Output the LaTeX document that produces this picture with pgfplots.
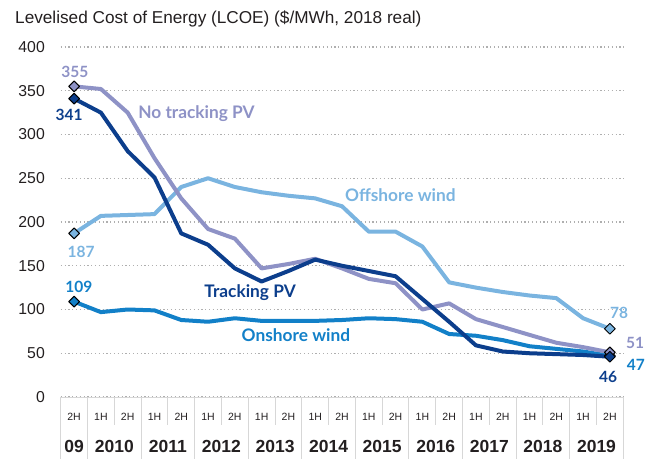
\documentclass[border=0pt]{standalone}
\usepackage{pgfplots}
\pgfplotsset{compat=1.18}
\usepackage{fontspec}
\setmainfont{Liberation Sans}
\newfontfamily\labfont{Lato}
\definecolor{ntpv}{RGB}{142,146,198}
\definecolor{tpv}{RGB}{12,62,140}
\definecolor{offw}{RGB}{122,180,224}
\definecolor{onw}{RGB}{18,128,200}
\definecolor{txt}{RGB}{35,31,32}
\definecolor{gridc}{RGB}{175,175,175}
\definecolor{boxc}{RGB}{215,215,215}
\begin{document}
\begin{tikzpicture}[x=1pt,y=1pt]
\path[use as bounding box] (0,0) rectangle (662,459);
\node[anchor=west, inner sep=0pt, font=\fontsize{17.2}{20}\selectfont, text=txt] at (15,439.7) {Levelised Cost of Energy (LCOE) (\$/MWh, 2018 real)};
\begin{axis}[
  at={(60.7pt,62pt)}, anchor=south west,
  scale only axis, width=562.6pt, height=350pt,
  xmin=-0.5, xmax=20.5, ymin=0, ymax=400,
  axis line style={draw=none},
  clip=false,
  ytick={0,50,...,400},
  ymajorgrids,
  grid style={gridc, line width=1.1pt, dash pattern=on 1.2pt off 2.6pt},
  major tick length=0pt,
  /pgf/number format/assume math mode=true,
  yticklabel style={font=\fontsize{15.8}{18}\selectfont, text=txt, inner sep=0pt, anchor=east, xshift=-15.7pt},
  xtick={0,...,20},
  xticklabels={2H,1H,2H,1H,2H,1H,2H,1H,2H,1H,2H,1H,2H,1H,2H,1H,2H,1H,2H,1H,2H},
  xticklabel style={font=\fontsize{10.5}{12}\selectfont, text=txt, anchor=center, inner sep=0pt},
  xticklabel shift=19.7pt,
  extra x ticks={0,1.5,3.5,5.5,7.5,9.5,11.5,13.5,15.5,17.5,19.5},
  extra x tick labels={09,2010,2011,2012,2013,2014,2015,2016,2017,2018,2019},
  extra x tick style={xticklabel shift=49.7pt, xticklabel style={font=\fontsize{17.5}{20}\selectfont\bfseries}},
]
% category boxes
\draw[boxc, line width=1pt] (axis cs:-0.5,0) -- (axis cs:20.5,0);
\pgfplotsinvokeforeach{-0.5,0.5,2.5,4.5,6.5,8.5,10.5,12.5,14.5,16.5,18.5,20.5}{
  \draw[boxc, line width=1pt] (axis cs:#1,0) -- ([yshift=-62pt]axis cs:#1,0);
}
\pgfplotsinvokeforeach{1.5,3.5,5.5,7.5,9.5,11.5,13.5,15.5,17.5,19.5}{
  \draw[boxc, line width=1pt] (axis cs:#1,0) -- ([yshift=-28pt]axis cs:#1,0);
}
% Offshore wind
\addplot[offw, line width=4pt, line join=round, mark=square*, mark indices={1,21}, mark options={solid, rotate=45, fill=offw, draw=black, line width=1pt, mark size=3.8pt}] coordinates {
(0,187) (1,207) (2,208) (3,209) (4,240) (5,250) (6,240) (7,234) (8,230) (9,227) (10,218)
(11,189) (12,189) (13,172) (14,131) (15,125) (16,120) (17,116) (18,113) (19,90) (20,78)};
% Onshore wind
\addplot[onw, line width=4pt, line join=round, mark=square*, mark indices={1,21}, mark options={solid, rotate=45, fill=onw, draw=black, line width=1pt, mark size=3.8pt}] coordinates {
(0,109) (1,97) (2,100) (3,99) (4,88) (5,86) (6,90) (7,87) (8,87) (9,87) (10,88)
(11,90) (12,89) (13,86) (14,72) (15,70) (16,65) (17,58) (18,55) (19,52) (20,47)};
% No tracking PV
\addplot[ntpv, line width=4pt, line join=round, mark=square*, mark indices={1,21}, mark options={solid, rotate=45, fill=ntpv, draw=black, line width=1pt, mark size=3.8pt}] coordinates {
(0,355) (1,352) (2,325) (3,273) (4,227) (5,192) (6,181) (7,147) (8,152) (9,158) (10,147)
(11,135) (12,130) (13,100) (14,107) (15,89) (16,80) (17,71) (18,62) (19,57) (20,51)};
% Tracking PV
\addplot[tpv, line width=4pt, line join=round, mark=square*, mark indices={1,21}, mark options={solid, rotate=45, fill=tpv, draw=black, line width=1pt, mark size=3.8pt}] coordinates {
(0,341) (1,325) (2,281) (3,251) (4,187) (5,174) (6,147) (7,132) (8,144) (9,157) (10,150)
(11,144) (12,138) (13,112) (14,86) (15,59) (16,52) (17,50) (18,49) (19,48) (20,46)};
% series labels
\node[font=\labfont\bfseries\fontsize{17.3}{20}\selectfont, text=ntpv] at (axis cs:4.57,324.2) {No tracking PV};
\node[font=\labfont\bfseries\fontsize{17.3}{20}\selectfont, text=offw] at (axis cs:12.18,230.9) {Offshore wind};
\node[font=\labfont\bfseries\fontsize{17.3}{20}\selectfont, text=tpv] at (axis cs:6.57,119.2) {Tracking PV};
\node[font=\labfont\bfseries\fontsize{17.3}{20}\selectfont, text=onw] at (axis cs:8.28,70.9) {Onshore wind};
% value labels
\node[font=\labfont\bfseries\fontsize{15.5}{18}\selectfont, text=ntpv] at (axis cs:0.03,371.8) {355};
\node[font=\labfont\bfseries\fontsize{15.5}{18}\selectfont, text=tpv] at (axis cs:-0.19,322.3) {341};
\node[font=\labfont\bfseries\fontsize{15.5}{18}\selectfont, text=offw] at (axis cs:0.26,166) {187};
\node[font=\labfont\bfseries\fontsize{15.5}{18}\selectfont, text=onw] at (axis cs:0.18,126) {109};
\node[font=\labfont\bfseries\fontsize{15.5}{18}\selectfont, text=offw] at (axis cs:20.34,96.3) {78};
\node[font=\labfont\bfseries\fontsize{15.5}{18}\selectfont, text=ntpv] at (axis cs:20.94,62) {51};
\node[font=\labfont\bfseries\fontsize{15.5}{18}\selectfont, text=onw] at (axis cs:20.97,36.6) {47};
\node[font=\labfont\bfseries\fontsize{15.5}{18}\selectfont, text=tpv] at (axis cs:19.93,23.2) {46};
\end{axis}
\end{tikzpicture}
\end{document}
